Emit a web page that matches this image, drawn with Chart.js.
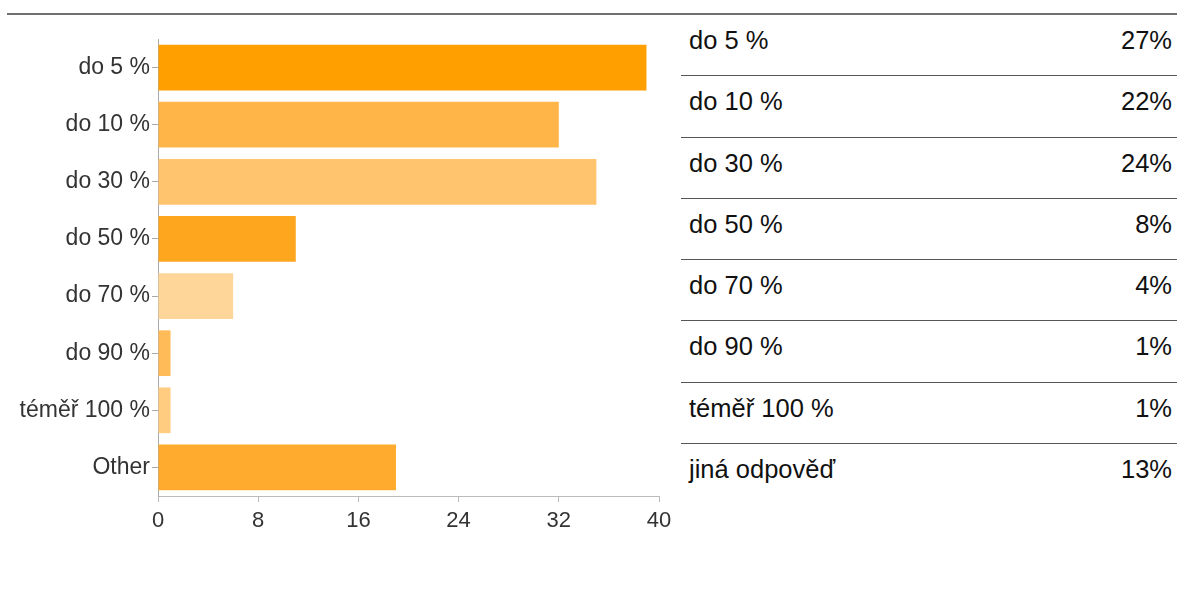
<!DOCTYPE html>
<html>
<head>
<meta charset="utf-8">
<script src="https://cdn.jsdelivr.net/npm/chart.js@4/dist/chart.umd.min.js"></script>
<style>
    body { margin: 0; background: #fff; font-family: "Liberation Sans", Arial, sans-serif; }
    #wrap { position: relative; width: 1177px; height: 607px; overflow: hidden; }
    #topLine { position: absolute; left: 7px; right: 0; top: 13px; height: 0; border-top: 2px solid #707070; }
    #chart { position: absolute; left: 0; top: 0; }
    #summary { position: absolute; left: 681px; top: 15px; width: 496px; }
    .row { height: 60.3px; border-bottom: 1px solid #555; position: relative; font-size: 25.5px; color: #111; }
    .row:last-child { border-bottom: none; }
    .row .lbl { position: absolute; left: 8px; top: 11px; }
    .row .val { position: absolute; right: 5px; top: 11px; }
</style>
</head>
<body>
<div id="wrap">
    <div id="topLine"></div>
    <canvas id="chart" width="680" height="560"></canvas>
    <div id="summary"></div>
</div>
<script>
// hodnoty
const categories = ['do 5 %', 'do 10 %', 'do 30 %', 'do 50 %', 'do 70 %', 'do 90 %', 'téměř 100 %', 'Other'];
const counts = [39, 32, 35, 11, 6, 1, 1, 19];
const barColors = ['#ffa000', '#ffb547', '#ffc46d', '#ffa61f', '#ffd699', '#ffbb57', '#ffcc80', '#ffac2e'];
const xTicks = [0, 8, 16, 24, 32, 40];

// tabulka vpravo
const tableLabels = ['do 5 %', 'do 10 %', 'do 30 %', 'do 50 %', 'do 70 %', 'do 90 %', 'téměř 100 %', 'jiná odpověď'];
const tablePercents = ['27%', '22%', '24%', '8%', '4%', '1%', '1%', '13%'];

const summary = document.getElementById('summary');
tableLabels.forEach((label, i) => {
    const row = document.createElement('div');
    row.className = 'row';
    row.innerHTML = `<span class="lbl"></span><span class="val"></span>`;
    row.querySelector('.lbl').textContent = label;
    row.querySelector('.val').textContent = tablePercents[i];
    summary.appendChild(row);
});

const fontFamily = '"Liberation Sans", Arial, sans-serif';

new Chart(document.getElementById('chart').getContext('2d'), {
    type: 'bar',
    data: {
        labels: categories,
        datasets: [{
            data: counts,
            backgroundColor: barColors,
            borderWidth: 0,
            barPercentage: 0.8,
            categoryPercentage: 1
        }]
    },
    options: {
        indexAxis: 'y',
        responsive: false,
        animation: false,
        devicePixelRatio: 1,
        layout: {
            padding: { top: 39, right: 21, left: 0, bottom: 0 }
        },
        plugins: {
            legend: { display: false },
            tooltip: { enabled: false }
        },
        scales: {
            x: {
                min: 0,
                max: 40,
                afterBuildTicks: (scale) => {
                    scale.ticks = xTicks.map(v => ({ value: v }));
                },
                afterFit: (scale) => { scale.height = 64; },
                grid: { drawOnChartArea: false, drawTicks: true, tickLength: 6, color: '#bbb' },
                border: { display: true, color: '#bbb' },
                ticks: { color: '#333', font: { family: fontFamily, size: 22 }, padding: 6, maxRotation: 0 }
            },
            y: {
                afterFit: (scale) => { scale.width = 158; },
                grid: { offset: false, drawOnChartArea: false, drawTicks: true, tickLength: 6, color: '#aaa' },
                border: { display: true, color: '#aaa' },
                ticks: { color: '#333', font: { family: fontFamily, size: 23 }, padding: 2 }
            }
        }
    }
});
</script>
</body>
</html>
